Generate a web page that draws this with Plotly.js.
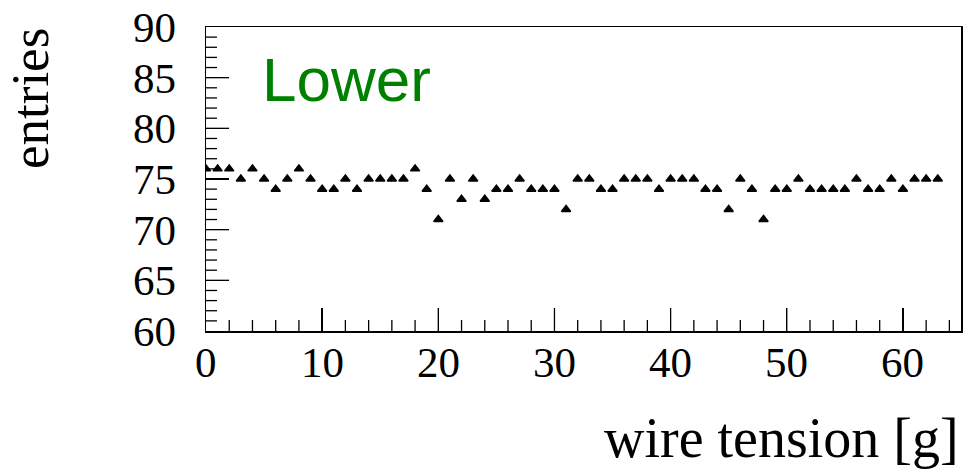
<!DOCTYPE html>
<html>
<head>
<meta charset="utf-8">
<script src="https://cdn.plot.ly/plotly-3.0.1.min.js"></script>
<style>html,body{margin:0;padding:0;background:#fff;}#chart{width:965px;height:470px;}</style>
</head>
<body>
<div id="chart"></div>
<script>
// wire index (tension bin) and number of entries
const tension = [0,1,2,3,4,5,6,7,8,9,10,11,12,13,14,15,16,17,18,19,20,21,22,23,24,25,26,27,28,29,30,31,32,33,34,35,36,37,38,39,40,41,42,43,44,45,46,47,48,49,50,51,52,53,54,55,56,57,58,59,60,61,62,63];
const entries = [76,76,76,75,76,75,74,75,76,75,74,74,75,74,75,75,75,75,76,74,71,75,73,75,73,74,74,75,74,74,74,72,75,75,74,74,75,75,75,74,75,75,75,74,74,72,75,74,71,74,74,75,74,74,74,74,75,74,74,75,74,75,75,75];
const xTickVals = [0,10,20,30,40,50,60];
const xTickText = ["0","10","20","30","40","50","60"];
const panelLabel = "Lower";
const xTitle = "wire tension [g]";
const yTitle = "entries";

const W = 965, H = 470;
const L = 206, R = 4, T = 27, B = 139;
const pw = W - L - R, ph = H - T - B;
const px = v => (v - L) / pw;
const py = v => (H - B - v) / ph;

const serif = "Liberation Serif, Times New Roman, serif";
const xRange = [0, 65], yRange = [60, 90];
const xMajor = 10, xMinor = 2, yMajor = 5, yMinor = 1;
const majorLen = 23, minorLen = 11;

const trace = {
  x: tension, y: entries, type: 'scatter', mode: 'markers',
  marker: {symbol: 'triangle-up', size: 8, color: '#000', line: {color: '#000', width: 1.5}},
  cliponaxis: true, hoverinfo: 'skip'
};

// tick marks (axis decoration), placed in axis units
const shapes = [];
for (let v = xRange[0] + xMinor; v < xRange[1]; v += xMinor) {
  const len = (v % xMajor === 0) ? majorLen : minorLen;
  shapes.push({type: 'line', xref: 'x', yref: 'paper', x0: v, x1: v, y0: 0, y1: len / ph,
    line: {color: '#000', width: 1.3}, layer: 'above'});
}
for (let v = yRange[0] + yMinor; v < yRange[1]; v += yMinor) {
  const len = (v % yMajor === 0) ? majorLen : minorLen;
  shapes.push({type: 'line', xref: 'paper', yref: 'y', x0: 0, x1: len / pw, y0: v, y1: v,
    line: {color: '#000', width: 1.3}, layer: 'above'});
}

const annotations = [
  {text: yTitle, xref: 'paper', yref: 'paper', x: px(30), y: py(99), xanchor: 'center', yanchor: 'middle',
   textangle: -90, showarrow: false, font: {family: serif, size: 53, color: '#000'}},
  {text: xTitle, xref: 'paper', yref: 'paper', x: px(961), y: py(438), xanchor: 'right', yanchor: 'middle',
   showarrow: false, font: {family: serif, size: 56, color: '#000'}},
  {text: panelLabel, xref: 'paper', yref: 'paper', x: px(260), y: py(80), xanchor: 'left', yanchor: 'middle',
   showarrow: false, font: {family: "Liberation Sans, Arial, sans-serif", size: 62, color: '#008000'}}
];
xTickVals.forEach((v, i) => annotations.push({
  text: xTickText[i], xref: 'x', yref: 'paper', x: v, y: py(362), xanchor: 'center', yanchor: 'middle',
  showarrow: false, font: {family: serif, size: 43, color: '#000'}
}));

const layout = {
  width: W, height: H,
  margin: {l: L, r: R, t: T, b: B, pad: 0},
  paper_bgcolor: '#fff', plot_bgcolor: '#fff',
  showlegend: false,
  xaxis: {range: xRange, showgrid: false, zeroline: false, showline: true, linecolor: '#000', linewidth: 1.5, mirror: true,
    ticks: 'inside', ticklen: majorLen, tickwidth: 1.3, tickcolor: '#000', tick0: 0, dtick: xMajor,
    showticklabels: false},
  yaxis: {range: yRange, showgrid: false, zeroline: false, showline: true, linecolor: '#000', linewidth: 1.5, mirror: true,
    ticks: 'inside', ticklen: majorLen, tickwidth: 1.3, tickcolor: '#000', tick0: 60, dtick: yMajor,
    tickfont: {family: serif, size: 43, color: '#000'}, ticklabelstandoff: 20},
  shapes: shapes,
  annotations: annotations
};

Plotly.newPlot('chart', [trace], layout, {staticPlot: true, displayModeBar: false});
</script>
</body>
</html>
